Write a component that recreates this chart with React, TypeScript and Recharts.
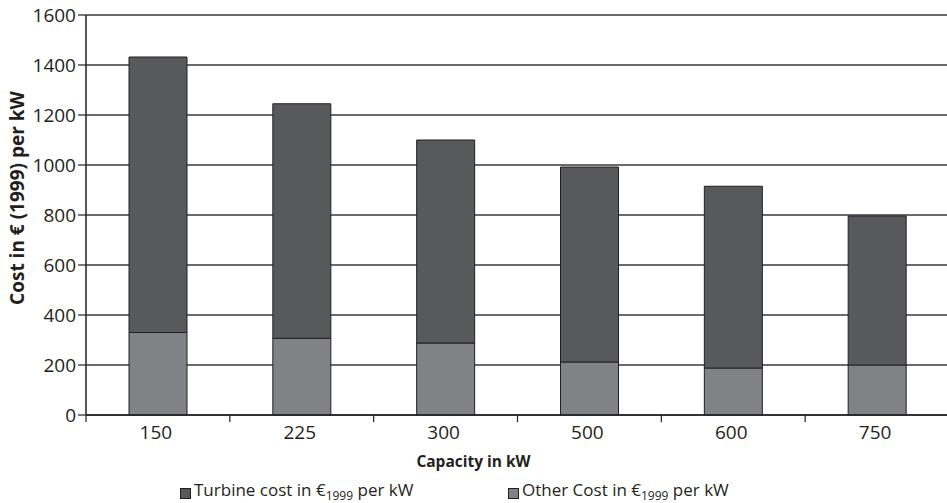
import React from 'react';
import { BarChart, Bar, XAxis, YAxis, CartesianGrid, Legend } from 'recharts';

const capacities = ['150', '225', '300', '500', '600', '750'];
const turbineCost = [1102, 938, 812, 780, 727, 596];
const otherCost = [330, 307, 288, 212, 188, 200];
const yTicks = [0, 200, 400, 600, 800, 1000, 1200, 1400, 1600];

const data = capacities.map((c, i) => ({ capacity: c, other: otherCost[i], turbine: turbineCost[i] }));

const PAGE_W = 947;
const W = 949;
const H = 503;
const Y_AXIS_W = 86;
const STEP = (W - Y_AXIS_W) / capacities.length;
const FONT = '"Open Sans", sans-serif';
const INK = '#231f20';

function CapacityTick(props: any) {
  const { x, y, payload, index } = props;
  const axisY = y - 8;
  return (
    <g>
      <line x1={x + STEP / 2} x2={x + STEP / 2} y1={axisY} y2={axisY + 7} stroke={INK} strokeWidth={1.2} />
      {index === 0 && <line x1={x - STEP / 2} x2={x - STEP / 2} y1={axisY} y2={axisY + 7} stroke={INK} strokeWidth={1.2} />}
      <text x={x - 2} y={axisY + 24} textAnchor="middle" fontFamily={FONT} fontSize={19} fill={INK}>
        {payload.value}
      </text>
    </g>
  );
}

function CostAxisLabel() {
  return (
    <text
      x={17}
      y={198}
      transform="rotate(-90, 17, 198)"
      textAnchor="middle"
      dominantBaseline="central"
      fontFamily={FONT}
      fontSize={19}
      fontWeight={700}
      fill={INK}
    >
      Cost in € (1999) per kW
    </text>
  );
}

function CapacityLabel() {
  return (
    <text x={PAGE_W / 2} y={467} textAnchor="middle" fontFamily={FONT} fontSize={15.5} fontWeight={700} fill={INK}>
      Capacity in kW
    </text>
  );
}

function LegendItem({ color, label }: { color: string; label: string }) {
  return (
    <div style={{ display: 'flex', alignItems: 'center', width: 328 }}>
      <span style={{ width: 9, height: 9, background: color, border: `1px solid ${INK}`, marginRight: 3, marginTop: 1 }} />
      <span>
        {label} in €<sub style={{ fontSize: 12, verticalAlign: -4 }}>1999</sub> per kW
      </span>
    </div>
  );
}

function CostLegend() {
  return (
    <div style={{ display: 'flex', paddingLeft: 180, paddingTop: 7, fontFamily: FONT, fontSize: 17, color: INK, lineHeight: '20px' }}>
      <LegendItem color="#58595b" label="Turbine cost" />
      <LegendItem color="#808285" label="Other Cost" />
    </div>
  );
}

export default function App() {
  return (
    <div style={{ width: PAGE_W, height: H, background: '#fff', overflow: 'hidden' }}>
      <style>{'body{margin:0}'}</style>
      <BarChart width={W} height={H} data={data} margin={{ top: 15, right: 0, left: 0, bottom: 0 }} barCategoryGap={0}>
        <CartesianGrid vertical={false} stroke="#3a3a3a" strokeWidth={1.5} />
        <XAxis
          dataKey="capacity"
          height={58}
          axisLine={{ stroke: INK, strokeWidth: 1.5 }}
          tickLine={false}
          tick={<CapacityTick />}
          interval={0}
          label={<CapacityLabel />}
        />
        <YAxis
          width={Y_AXIS_W}
          domain={[0, 1600]}
          ticks={yTicks}
          interval={0}
          axisLine={{ stroke: INK, strokeWidth: 1.5 }}
          tickLine={{ stroke: INK, strokeWidth: 1.2 }}
          tickSize={8}
          tickMargin={2}
          tick={{ fontFamily: FONT, fontSize: 19, fill: INK }}
          label={<CostAxisLabel />}
        />
        <Legend verticalAlign="bottom" height={30} content={<CostLegend />} />
        <Bar dataKey="other" stackId="cost" fill="#808285" stroke={INK} strokeWidth={1} barSize={58} isAnimationActive={false} />
        <Bar dataKey="turbine" stackId="cost" fill="#58595b" stroke={INK} strokeWidth={1} barSize={58} isAnimationActive={false} />
      </BarChart>
    </div>
  );
}
